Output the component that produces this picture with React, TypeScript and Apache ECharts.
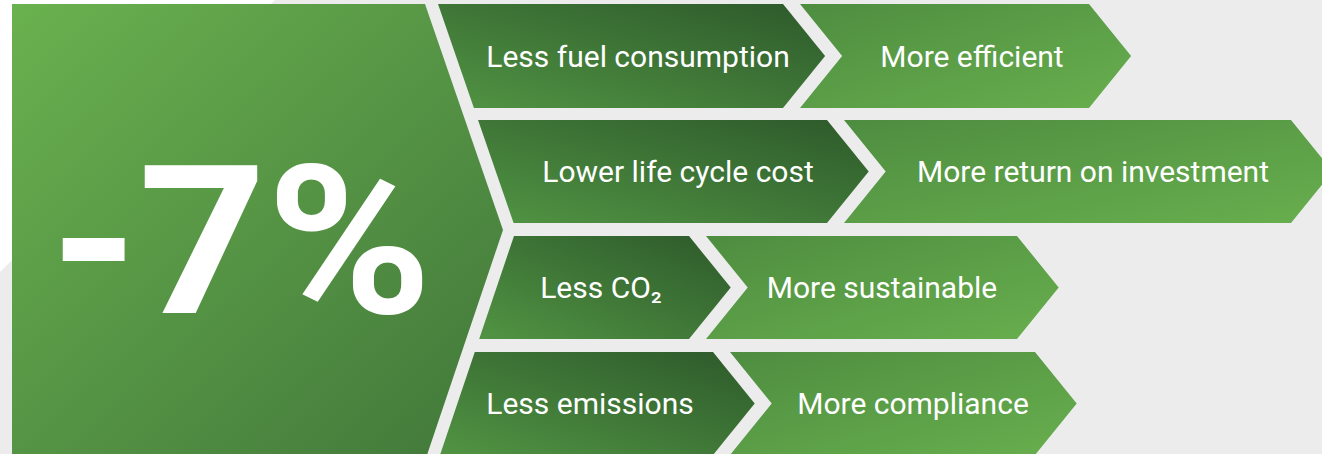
import React, { useEffect, useRef } from "react";
import * as echarts from "echarts";

const headline = "-7%";
const causes = ["Less fuel consumption", "Lower life cycle cost", "Less CO₂", "Less emissions"];
const effects = ["More efficient", "More return on investment", "More sustainable", "More compliance"];

// layout (pixels)
const rowTops = [4, 120, 236, 352];
const rowBottoms = [108, 223, 339, 455];
const causeEnds = [783, 827, 689, 713];
const effectEnds = [1089, 1291, 1017, 1035];
const causeCenters = [638, 678, 601, 590];
const effectCenters = [972, 1093, 882, 913];

const W = 1322;
const H = 454;

function bigEdge(y: number): number {
  return y <= 230 ? 425 + ((y - 4) * 78) / 226 : 503 - ((y - 230) * 76) / 225;
}

export default function App() {
  const ref = useRef<HTMLDivElement>(null);
  useEffect(() => {
    document.body.style.margin = "0";
    const chart = echarts.init(ref.current!, null, { renderer: "svg" });
    const els: any[] = [];
    els.push({ type: "rect", shape: { x: 0, y: 0, width: W, height: H }, style: { fill: "#ececec" } });
    els.push({ type: "polygon", shape: { points: [[0, 0], [275, 0], [0, 272]] }, style: { fill: "#ffffff" } });
    els.push({
      type: "polygon",
      shape: { points: [[12, 4], [425, 4], [503, 230], [427, 455], [12, 455]] },
      style: {
        fill: new echarts.graphic.LinearGradient(0, 0, 1, 1, [
          { offset: 0, color: "#6ab14f" },
          { offset: 1, color: "#41773a" },
        ]),
      },
    });
    els.push({
      type: "text",
      x: 241,
      y: 242,
      scaleX: 1.08,
      style: {
        text: headline,
        fill: "#ffffff",
        fontSize: 207,
        fontWeight: "bold",
        fontFamily: "Roboto",
        align: "center",
        verticalAlign: "middle",
      },
    });
    causes.forEach((label, i) => {
      const top = rowTops[i];
      const bot = rowBottoms[i];
      const mid = (top + bot) / 2;
      const d = ((bot - top) / 2) * 0.81;
      const ce = causeEnds[i];
      els.push({
        type: "polygon",
        shape: {
          points: [[bigEdge(top) + 13, top], [ce, top], [ce + d, mid], [ce, bot], [bigEdge(bot) + 13, bot]],
        },
        style: {
          fill: new echarts.graphic.LinearGradient(0, 1, 1, 0, [
            { offset: 0, color: "#519443" },
            { offset: 1, color: "#2d592b" },
          ]),
        },
      });
      const es = ce + 17;
      const ee = effectEnds[i];
      els.push({
        type: "polygon",
        shape: {
          points: [[es, top], [ee, top], [ee + d, mid], [ee, bot], [es, bot], [es + d, mid]],
        },
        style: {
          fill: new echarts.graphic.LinearGradient(0, 0, 1, 1, [
            { offset: 0, color: "#4e8d40" },
            { offset: 1, color: "#68af4e" },
          ]),
        },
      });
      els.push({
        type: "text",
        x: causeCenters[i],
        y: mid,
        style: {
          text: label,
          fill: "#ffffff",
          fontSize: 30,
          fontFamily: "Roboto",
          align: "center",
          verticalAlign: "middle",
        },
      });
      els.push({
        type: "text",
        x: effectCenters[i],
        y: mid,
        style: {
          text: effects[i],
          fill: "#ffffff",
          fontSize: 30,
          fontFamily: "Roboto",
          align: "center",
          verticalAlign: "middle",
        },
      });
    });
    chart.setOption({ animation: false, graphic: { elements: els } });
    return () => chart.dispose();
  }, []);
  return <div ref={ref} style={{ width: W, height: H }} />;
}
